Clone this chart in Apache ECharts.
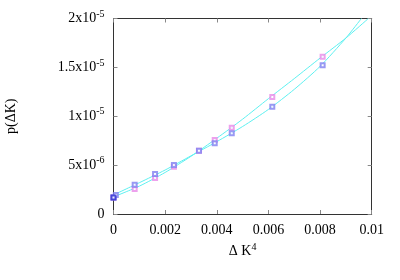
<!DOCTYPE html>
<html>
<head>
<meta charset="utf-8">
<script src="https://cdn.jsdelivr.net/npm/echarts@6/dist/echarts.min.js"></script>
<style>html,body{margin:0;padding:0;background:#fff}#c{width:400px;height:280px}</style>
</head>
<body>
<div id="c"></div>
<script>
// data points (x = ΔK^4, y = p(ΔK))
var pointX = [0, 0.00082, 0.00161, 0.00234, 0.00331, 0.00392, 0.00458, 0.00615, 0.0081];
var pinkY = [1.7e-6, 2.56e-6, 3.68e-6, 4.84e-6, 6.48e-6, 7.57e-6, 8.83e-6, 11.97e-6, 16.09e-6];
var blueY = [1.7e-6, 3.0e-6, 4.09e-6, 5.01e-6, 6.48e-6, 7.23e-6, 8.26e-6, 10.98e-6, 15.21e-6];
var extraX = [0.00009];
var extraY = [1.95e-6];
// fitted curves
var pinkFitX = [0, 0.001, 0.002, 0.003, 0.004, 0.005, 0.006, 0.007, 0.008, 0.009, 0.00987];
var pinkFitY = [1.75e-6, 2.85e-6, 4.25e-6, 5.9e-6, 7.75e-6, 9.7e-6, 11.8e-6, 13.85e-6, 15.95e-6, 18.0e-6, 20e-6];
var blueFitX = [0, 0.001, 0.002, 0.003, 0.004, 0.005, 0.006, 0.007, 0.008, 0.009, 0.0096];
var blueFitY = [1.95e-6, 3.2e-6, 4.5e-6, 5.95e-6, 7.4e-6, 8.95e-6, 10.7e-6, 12.75e-6, 15.1e-6, 18.0e-6, 20e-6];
// tick labels
var xTickLabels = ['0', '0.002', '0.004', '0.006', '0.008', '0.01'];
var yTickLabels = ['0', '5x10{sup|-6}', '1x10{sup|-5}', '1.5x10{sup|-5}', '2x10{sup|-5}'];

function pairs(xs, ys) { return xs.map(function (x, i) { return [x, ys[i]]; }); }

var font = 'Liberation Serif';
var rich = {
  sup: { fontFamily: font, fontSize: 10, color: '#000', padding: [0, 0, 9, 0] }
};
var chart = echarts.init(document.getElementById('c'), null, { renderer: 'canvas' });
var axisLine = { show: true, onZero: false, lineStyle: { color: '#333', width: 1 } };
var tick = { show: true, inside: true, length: 4, lineStyle: { color: '#888' } };
chart.setOption({
  animation: false,
  backgroundColor: '#fff',
  grid: { left: 113.5, right: 28.3, top: 18.5, bottom: 66, containLabel: false, outerBoundsMode: 'none' },
  xAxis: [{
    type: 'value', min: 0, max: 0.01, interval: 0.002, position: 'bottom',
    axisLine: axisLine, axisTick: tick, splitLine: { show: false },
    axisLabel: { fontFamily: font, fontSize: 14, color: '#000', margin: 9,
      formatter: function (v) { return xTickLabels[Math.round(v / 0.002)]; } },
    name: 'Δ K{sup|4}', nameLocation: 'middle', nameGap: 26,
    nameTextStyle: { fontFamily: font, fontSize: 14, color: '#000', rich: rich }
  }, {
    type: 'value', min: 0, max: 0.01, interval: 0.002, position: 'top',
    axisLine: axisLine, axisTick: tick, splitLine: { show: false }, axisLabel: { show: false }
  }],
  yAxis: [{
    type: 'value', min: 0, max: 2e-5, interval: 5e-6, position: 'left',
    axisLine: axisLine, axisTick: tick, splitLine: { show: false },
    axisLabel: { fontFamily: font, fontSize: 14, color: '#000', margin: 9, rich: rich,
      formatter: function (v) { return yTickLabels[Math.round(v / 5e-6)]; } },
    name: 'p(ΔK)', nameLocation: 'middle', nameGap: 95, nameRotate: 90,
    nameTextStyle: { fontFamily: font, fontSize: 14, color: '#000' }
  }, {
    type: 'value', min: 0, max: 2e-5, interval: 5e-6, position: 'right',
    axisLine: axisLine, axisTick: tick, splitLine: { show: false }, axisLabel: { show: false }
  }],
  series: [
    { type: 'line', data: pairs(pinkFitX, pinkFitY), smooth: 0.25, showSymbol: false, symbol: 'none',
      lineStyle: { color: '#5ef0f0', width: 1 }, clip: true, z: 1 },
    { type: 'line', data: pairs(blueFitX, blueFitY), smooth: 0.25, showSymbol: false, symbol: 'none',
      lineStyle: { color: '#5ef0f0', width: 1 }, clip: true, z: 1 },
    { type: 'scatter', data: pairs(pointX, pinkY), symbol: 'emptyRect', symbolSize: 4,
      itemStyle: { color: '#e88ae8', borderWidth: 0.8 }, z: 3 },
    { type: 'scatter', data: pairs(pointX, blueY).concat(pairs(extraX, extraY)), symbol: 'emptyRect', symbolSize: 4,
      itemStyle: { color: '#8080f0', borderWidth: 0.8 }, z: 4 },
    { type: 'scatter', data: [[pointX[0], blueY[0]]], symbol: 'emptyRect', symbolSize: 4,
      itemStyle: { color: '#2a2ad0', borderWidth: 1.2 }, z: 5 }
  ]
});
</script>
</body>
</html>
